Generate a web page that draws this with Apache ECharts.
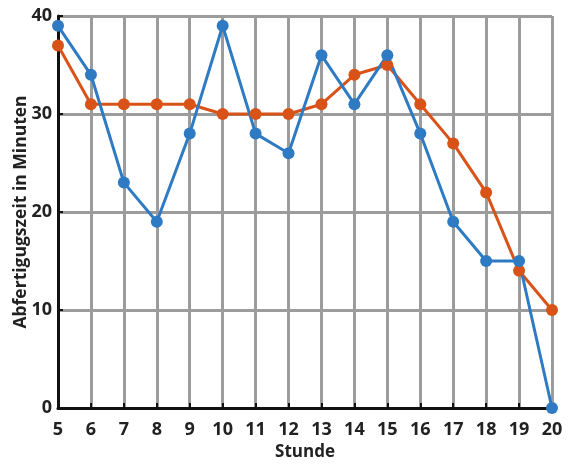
<!DOCTYPE html>
<html>
<head>
<meta charset="utf-8">
<script src="https://cdn.jsdelivr.net/npm/echarts@6/dist/echarts.min.js"></script>
<style>
    html, body { margin: 0; padding: 0; background: #fff; }
</style>
</head>
<body>
<div id="chart" style="width: 580px;height: 475px;"></div>
<script>
    // Stunden und Abfertigungszeiten
    var hours = [5, 6, 7, 8, 9, 10, 11, 12, 13, 14, 15, 16, 17, 18, 19, 20];
    var blueValues = [39, 34, 23, 19, 28, 39, 28, 26, 36, 31, 36, 28, 19, 15, 15, 0];
    var orangeValues = [37, 31, 31, 31, 31, 30, 30, 30, 31, 34, 35, 31, 27, 22, 14, 10];
    var yTicks = [0, 10, 20, 30, 40];

    function pairs(values) {
        return hours.map(function (h, i) { return [h, values[i]]; });
    }

    var font = '"Open Sans", "DejaVu Sans", sans-serif';
    var myChart = echarts.init(document.getElementById('chart'));
    myChart.setOption({
        animation: false,
        grid: { left: 58, right: 28, top: 16, bottom: 67, containLabel: false, outerBoundsMode: 'none' },
        xAxis: {
            type: 'value',
            min: hours[0],
            max: hours[hours.length - 1],
            interval: 1,
            name: 'Stunde',
            nameLocation: 'middle',
            nameGap: 35,
            nameTextStyle: { fontFamily: font, fontWeight: 'bold', fontSize: 17, color: '#222' },
            axisLine: { lineStyle: { color: '#111', width: 3 } },
            axisTick: { inside: true, length: 5, lineStyle: { color: '#111', width: 2 } },
            axisLabel: { margin: 13, fontFamily: font, fontWeight: 'bold', fontSize: 18, color: '#222' },
            splitLine: { show: true, lineStyle: { color: '#9c9c9c', width: 3 } }
        },
        yAxis: {
            type: 'value',
            min: yTicks[0],
            max: yTicks[yTicks.length - 1],
            interval: 10,
            name: 'Abfertigugszeit in Minuten',
            nameLocation: 'middle',
            nameGap: 28,
            nameMoveOverlap: false,
            nameTextStyle: { fontFamily: font, fontWeight: 'bold', fontSize: 17.5, color: '#222' },
            axisLine: { show: true, lineStyle: { color: '#111', width: 3 } },
            axisTick: { show: true, inside: true, length: 5, lineStyle: { color: '#111', width: 2 } },
            axisLabel: { margin: 6, fontFamily: font, fontWeight: 'bold', fontSize: 18, color: '#222' },
            splitLine: { show: true, lineStyle: { color: '#9c9c9c', width: 3 } }
        },
        series: [
            {
                name: 'orange',
                type: 'line',
                data: pairs(orangeValues),
                symbol: 'circle',
                symbolSize: 12,
                itemStyle: { color: '#D95319' },
                lineStyle: { color: '#D95319', width: 3 }
            },
            {
                name: 'blue',
                type: 'line',
                data: pairs(blueValues),
                symbol: 'circle',
                symbolSize: 12,
                itemStyle: { color: '#2E7BC4' },
                lineStyle: { color: '#2E7BC4', width: 3 }
            }
        ]
    });
</script>
</body>
</html>
